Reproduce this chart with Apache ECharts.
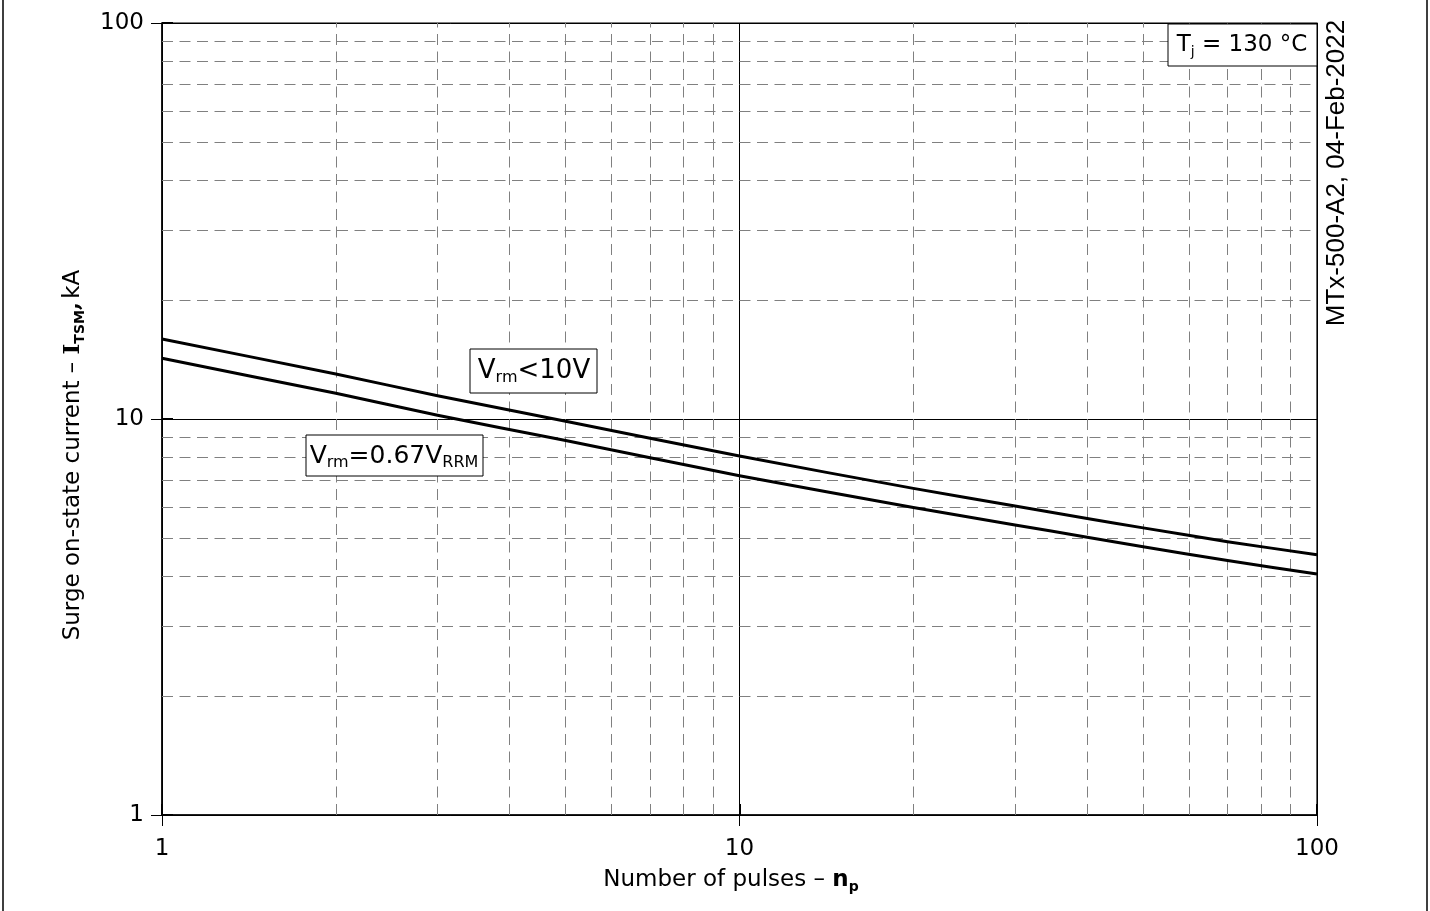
<!DOCTYPE html>
<html><head><meta charset="utf-8">
<script src="https://cdn.jsdelivr.net/npm/echarts@6/dist/echarts.min.js"></script>
<style>html,body{margin:0;padding:0;background:#fff}#c{width:1430px;height:911px}</style>
</head><body><div id="c"></div>
<script>
var pulses = [1, 2, 3, 5, 10, 20, 30, 40, 50, 70, 100];
var iLow10V = [15.92, 12.99, 11.45, 9.87, 8.06, 6.68, 6.03, 5.61, 5.31, 4.90, 4.54];
var iRated = [14.23, 11.61, 10.22, 8.82, 7.19, 5.98, 5.40, 5.03, 4.76, 4.39, 4.06];
var xMinorTicks = [2, 3, 4, 5, 6, 7, 8, 9, 20, 30, 40, 50, 60, 70, 80, 90];
var yMinorTicks = [2, 3, 4, 5, 6, 7, 8, 9, 20, 30, 40, 50, 60, 70, 80, 90];

var FONT = 'DejaVu Sans';
var chart = echarts.init(document.getElementById('c'));
function pairs(xs, ys) { return xs.map(function (x, i) { return [x, ys[i]]; }); }
var dashStyle = { color: '#808080', type: [11, 6.5], width: 1 };
function innerAxis(pos) {
  return {
    type: 'log', logBase: 10, min: 1, max: 100, position: pos, offset: 0,
    axisLine: { show: false }, axisLabel: { show: false }, splitLine: { show: false },
    axisTick: { show: true, inside: true, length: 11, lineStyle: { color: '#000', width: 2 } }
  };
}

chart.setOption({
  animation: false,
  backgroundColor: '#fff',
  grid: { left: 162, top: 23, right: 113, bottom: 96, show: true, borderColor: '#000', borderWidth: 1.2, backgroundColor: 'transparent' },
  xAxis: [{
    type: 'log', logBase: 10, min: 1, max: 100, position: 'bottom',
    axisLine: { show: true, onZero: false, lineStyle: { color: '#000', width: 1.5 } },
    axisTick: { show: true, length: 11, inside: false, lineStyle: { color: '#000', width: 1 } },
    axisLabel: { color: '#000', fontFamily: FONT, fontSize: 23, margin: 23 },
    splitLine: { show: true, lineStyle: { color: '#000', width: 1 } }
  }, innerAxis('bottom')],
  yAxis: [{
    type: 'log', logBase: 10, min: 1, max: 100, position: 'left',
    axisLine: { show: true, onZero: false, lineStyle: { color: '#000', width: 1.5 } },
    axisTick: { show: true, length: 11, inside: false, lineStyle: { color: '#000', width: 1 } },
    axisLabel: { color: '#000', fontFamily: FONT, fontSize: 23, margin: 18 },
    splitLine: { show: true, lineStyle: { color: '#000', width: 1 } }
  }, innerAxis('left')],
  series: [
    {
      type: 'line', data: [], silent: true,
      markLine: {
        silent: true, symbol: 'none', animation: false,
        label: { show: false },
        lineStyle: dashStyle,
        data: xMinorTicks.map(function (v) { return { xAxis: v }; })
          .concat(yMinorTicks.map(function (v) { return { yAxis: v }; }))
      }
    },
    {
      name: 'Vrm<10V', type: 'line', data: pairs(pulses, iLow10V), smooth: 0.15,
      showSymbol: false, lineStyle: { color: '#000', width: 3, join: 'round' }, z: 5
    },
    {
      name: 'Vrm=0.67VRRM', type: 'line', data: pairs(pulses, iRated), smooth: 0.15,
      showSymbol: false, lineStyle: { color: '#000', width: 3, join: 'round' }, z: 5
    }
  ],
  graphic: [
    { type: 'rect', shape: { x: 3, y: -3, width: 1424, height: 918 }, style: { fill: 'none', stroke: '#000', lineWidth: 1.5 }, silent: true },
    { type: 'text', x: 731, y: 880, z: 11, style: {
        text: '{n|Number of pulses – }{b|n}{s|p}', align: 'center', verticalAlign: 'middle',
        rich: {
          n: { fontFamily: FONT, fontSize: 23, fill: '#000', lineHeight: 28 },
          b: { fontFamily: FONT, fontSize: 23, fontWeight: 'bold', fill: '#000', lineHeight: 28 },
          s: { fontFamily: FONT, fontSize: 14, fontWeight: 'bold', fill: '#000', verticalAlign: 'bottom', lineHeight: 22 }
        } } },
    { type: 'text', x: 73, y: 455, rotation: Math.PI / 2, z: 11, style: {
        text: '{n|Surge on-state current – }{b|I}{s|TSM}{b|,} {n|kA}', align: 'center', verticalAlign: 'middle',
        rich: {
          n: { fontFamily: FONT, fontSize: 23, fill: '#000', lineHeight: 28 },
          b: { fontFamily: 'DejaVu Serif', fontSize: 23, fontWeight: 'bold', fill: '#000', lineHeight: 28 },
          s: { fontFamily: FONT, fontSize: 14, fontWeight: 'bold', fill: '#000', verticalAlign: 'bottom', lineHeight: 22 }
        } } },
    { type: 'rect', shape: { x: 470, y: 349, width: 127, height: 44 }, style: { fill: '#fff', stroke: '#000', lineWidth: 1 }, z: 10 },
    { type: 'text', x: 534, y: 371, z: 11, style: {
        text: '{v|V}{s|rm}{v|<10V}', align: 'center', verticalAlign: 'middle',
        rich: { v: { fontFamily: FONT, fontSize: 26, fill: '#000', lineHeight: 30 }, s: { fontFamily: FONT, fontSize: 16, fill: '#000', verticalAlign: 'bottom', lineHeight: 25 } } } },
    { type: 'rect', shape: { x: 306, y: 435, width: 177, height: 41 }, style: { fill: '#fff', stroke: '#000', lineWidth: 1 }, z: 10 },
    { type: 'text', x: 394, y: 456, z: 11, style: {
        text: '{v|V}{s|rm}{v|=0.67V}{s|RRM}', align: 'center', verticalAlign: 'middle',
        rich: { v: { fontFamily: FONT, fontSize: 25, fill: '#000', lineHeight: 30 }, s: { fontFamily: FONT, fontSize: 16, fill: '#000', verticalAlign: 'bottom', lineHeight: 25 } } } },
    { type: 'rect', shape: { x: 1168, y: 24, width: 149, height: 42 }, style: { fill: '#fff', stroke: '#000', lineWidth: 1 }, z: 10 },
    { type: 'text', x: 1242, y: 45, z: 11, style: {
        text: '{v|T}{s|j}{v| = 130 °C}', align: 'center', verticalAlign: 'middle',
        rich: { v: { fontFamily: FONT, fontSize: 23, fill: '#000', lineHeight: 28 }, s: { fontFamily: FONT, fontSize: 14, fill: '#000', verticalAlign: 'bottom', lineHeight: 23 } } } },
    { type: 'text', x: 1337, y: 173, rotation: Math.PI / 2, z: 11, style: {
        text: 'MTx-500-A2, 04-Feb-2022', align: 'center', verticalAlign: 'middle',
        fontFamily: 'Liberation Sans', fontSize: 26, fill: '#000' } }
  ]
});
</script>
</body></html>
